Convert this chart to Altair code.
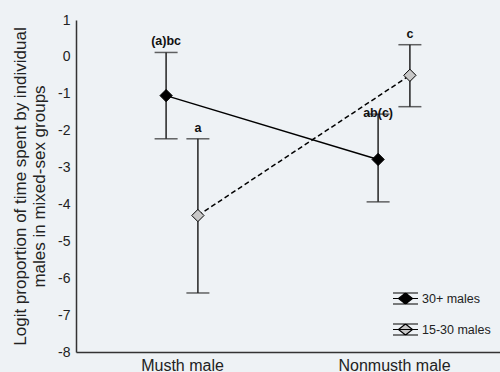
import altair as alt
import pandas as pd

categories = ["Musth male", "Nonmusth male"]
groups = ["30+ males", "15-30 males"]
# values per group, in order of categories
means = {"30+ males": [-1.05, -2.78], "15-30 males": [-4.3, -0.5]}
lower = {"30+ males": [-2.22, -3.93], "15-30 males": [-6.4, -1.35]}
upper = {"30+ males": [0.12, -1.55], "15-30 males": [-2.22, 0.33]}
letters = {"30+ males": ["(a)bc", "ab(c)"], "15-30 males": ["a", "c"]}
y_ticks = [-8, -7, -6, -5, -4, -3, -2, -1, 0, 1]

offsets = {"30+ males": -0.075, "15-30 males": 0.075}
rows = []
for g in groups:
    for i, c in enumerate(categories):
        rows.append({
            "group": g, "category": c, "x": i + 1 + offsets[g],
            "mean": means[g][i], "lo": lower[g][i], "hi": upper[g][i],
            "letter": letters[g][i],
        })
df = pd.DataFrame(rows)

FONT = "Liberation Sans"
xscale = alt.Scale(domain=[0.5, 2.5], nice=False, zero=False)
yscale = alt.Scale(domain=[-8, 1], nice=False, zero=False)

x_axis = alt.Axis(
    values=[1, 2], labelExpr="datum.value == 1 ? 'Musth male' : 'Nonmusth male'",
    title=None, grid=False, ticks=False, labelFontSize=16, labelPadding=5,
    labelColor="#222", labelFont=FONT, domainColor="#333", domainWidth=1.5)
y_axis = alt.Axis(
    values=y_ticks, labelExpr="datum.value + ''", labelOverlap=False,
    grid=False, ticks=False, labelFontSize=14,
    labelPadding=6, labelColor="#222", labelFont=FONT, domainColor="#333",
    domainWidth=1.5, titleFontSize=17, titleFontWeight="normal",
    titleColor="#222", titleFont=FONT, titlePadding=9,
    title=["Logit proportion of time spent by individual", "males in mixed-sex groups"])

base = alt.Chart(df)
X = alt.X("x:Q", scale=xscale, axis=x_axis)

line_solid = base.transform_filter(alt.datum.group == "30+ males").mark_line(
    color="black", strokeWidth=1.5).encode(
    x=X, y=alt.Y("mean:Q", scale=yscale, axis=y_axis))
line_dash = base.transform_filter(alt.datum.group == "15-30 males").mark_line(
    color="black", strokeWidth=1.5, strokeDash=[5, 3]).encode(
    x=X, y=alt.Y("mean:Q", scale=yscale, axis=y_axis))

rules = base.mark_rule(color="#222", strokeWidth=1.5).encode(
    x=X, y=alt.Y("lo:Q", scale=yscale, axis=y_axis), y2="hi:Q")

caps_hi = base.mark_tick(orient="horizontal", size=23, thickness=1.5, color="#222").encode(
    x=X, y=alt.Y("hi:Q", scale=yscale, axis=y_axis))
caps_lo = base.mark_tick(orient="horizontal", size=23, thickness=1.5, color="#222").encode(
    x=X, y=alt.Y("lo:Q", scale=yscale, axis=y_axis))

legend_symbol = "M-1,-0.44H1M-1,0.44H1M-1,0H1M0,-0.44L0.56,0L0,0.44L-0.56,0Z"

points = base.mark_point(shape="diamond", filled=True, size=150, stroke="black",
                         strokeWidth=1, opacity=1).encode(
    x=X, y=alt.Y("mean:Q", scale=yscale, axis=y_axis),
    fill=alt.Fill("group:N", scale=alt.Scale(domain=groups, range=["black", "#c8c8c8"]),
                  legend=alt.Legend(title=None, orient="none", legendX=316, legendY=265,
                                    symbolType=legend_symbol, symbolSize=625,
                                    symbolStrokeColor="black", symbolStrokeWidth=1.2,
                                    labelFontSize=12.5, labelFont=FONT, labelColor="#222",
                                    rowPadding=9, padding=0, labelOffset=3)),
)

text_above = base.transform_filter(alt.datum.letter != "ab(c)").mark_text(
    fontSize=12.5, fontWeight="bold", font=FONT, baseline="bottom", dy=-4, color="#111").encode(
    x=X, y=alt.Y("hi:Q", scale=yscale, axis=y_axis), text="letter:N")
text_on = base.transform_filter(alt.datum.letter == "ab(c)").mark_text(
    fontSize=12.5, fontWeight="bold", font=FONT, baseline="middle", dy=-1, color="#111").encode(
    x=X, y=alt.Y("hi:Q", scale=yscale, axis=y_axis), text="letter:N")

chart = alt.layer(line_solid, line_dash, rules, caps_hi, caps_lo, points, text_above, text_on).properties(
    width=424, height=332,
    autosize=alt.AutoSizeParams(type="none"),
    padding={"left": 76, "top": 20, "right": 0, "bottom": 20},
    background="#eef2f5",
).configure_view(stroke=None)

chart.save("out.html", embed_options={"renderer": "svg", "actions": False})
